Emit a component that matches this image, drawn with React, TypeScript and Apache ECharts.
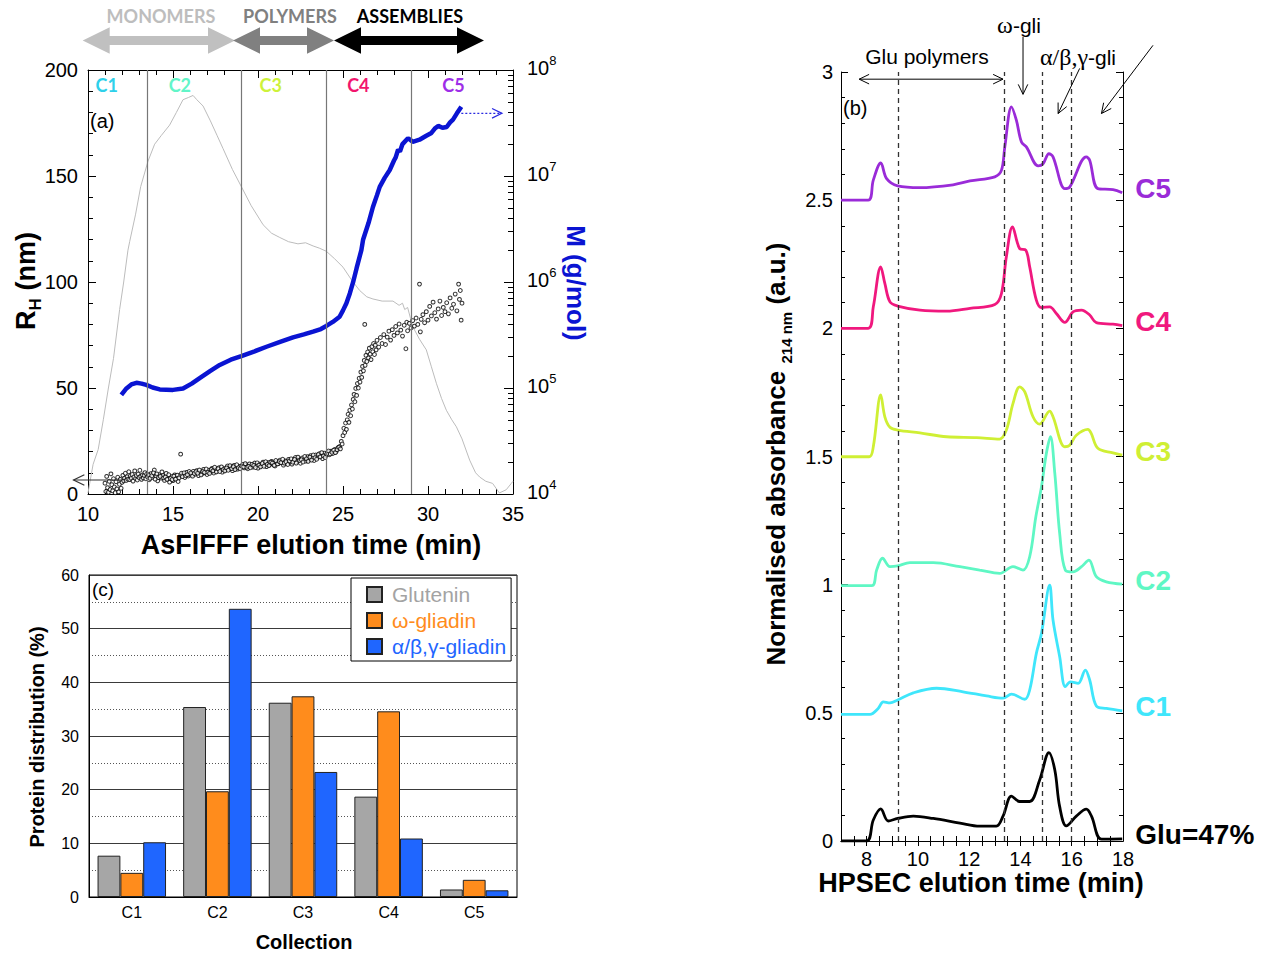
import React, { useEffect, useRef } from "react";
import * as echarts from "echarts";

const FONT = "'Liberation Sans', Arial, Helvetica, sans-serif";
const FONT_C = "Lato, 'Open Sans', sans-serif";
const SERIF = "'Liberation Serif', 'DejaVu Serif', serif";

// ---------- (a) AsFlFFF ----------
const FRACTOGRAM: [number, number][] = [
  [10.0, 0.5], [10.1, 5], [10.3, 14], [10.6, 21], [10.9, 35], [11.2, 50], [11.5, 64], [11.86, 87],
  [12.1, 100], [12.35, 115], [12.45, 119], [12.8, 132], [13.1, 145], [13.53, 157], [13.92, 165],
  [14.3, 169], [14.8, 174], [15.2, 180], [15.59, 186], [15.9, 187], [16.18, 188], [16.4, 186],
  [16.77, 183], [17.2, 176], [17.6, 169], [17.94, 163], [18.5, 153], [19.02, 145], [19.6, 136],
  [20.3, 127], [20.8, 123], [21.28, 121], [21.8, 119], [22.35, 118], [22.8, 118.5], [23.24, 117],
  [23.6, 116], [24.02, 114.5], [24.5, 111], [25.0, 107], [25.5, 101], [25.98, 96], [26.4, 93],
  [26.76, 92], [27.3, 91], [27.94, 91], [28.3, 89], [28.5, 90], [28.63, 87], [28.8, 88], [29.1, 79],
  [29.5, 73], [29.9, 68], [30.2, 60], [30.5, 52], [30.8, 45], [31.08, 39.5], [31.4, 35], [31.67, 31.7],
  [32.0, 26], [32.45, 16], [32.8, 10], [33.04, 8], [33.4, 6], [33.8, 5], [34.2, 0.5], [34.6, 2],
  [34.9, 5], [35.0, 6],
];

const MOLAR_MASS: [number, number][] = [
  [11.96, 8.6e4], [12.26, 9.9e4], [12.55, 1.08e5], [12.85, 1.12e5], [13.15, 1.1e5], [13.43, 1.07e5],
  [13.8, 1.01e5], [14.22, 9.7e4], [15.0, 9.6e4], [15.59, 9.9e4], [16.1, 1.1e5], [16.57, 1.24e5],
  [17.2, 1.45e5], [17.75, 1.65e5], [18.4, 1.85e5], [19.02, 2.0e5], [19.8, 2.22e5], [20.5, 2.45e5],
  [21.3, 2.72e5], [22.06, 3.0e5], [22.7, 3.2e5], [23.24, 3.4e5], [23.7, 3.6e5], [24.02, 3.85e5],
  [24.4, 4.2e5], [24.8, 4.7e5], [25.0, 5.4e5], [25.2, 6.3e5], [25.4, 7.8e5], [25.59, 9.9e5],
  [25.8, 1.35e6], [26.08, 2.0e6], [26.18, 2.5e6], [26.5, 3.6e6], [26.76, 5.1e6], [27.0, 6.6e6],
  [27.16, 7.9e6], [27.45, 9.6e6], [27.75, 1.14e7], [28.0, 1.4e7], [28.1, 1.5e7], [28.24, 1.77e7],
  [28.35, 1.7e7], [28.5, 2.0e7], [28.82, 2.27e7], [28.95, 2.2e7], [29.1, 2.1e7], [29.5, 2.2e7],
  [29.9, 2.4e7], [30.2, 2.55e7], [30.4, 2.8e7], [30.6, 2.97e7], [30.85, 2.85e7], [31.1, 2.9e7],
  [31.3, 3.2e7], [31.47, 3.4e7], [31.7, 3.9e7], [31.96, 4.5e7],
];

const RH_POINTS: [number, number][] = [
  [11.0, 5.1], [11.05, 1.2], [11.1, 8.3], [11.15, 3.0], [11.2, 0.8], [11.25, 6.0], [11.3, 2.1], [11.35, 9.5],
  [11.4, 4.4], [11.45, 1.5], [11.5, 7.2], [11.55, 3.3], [11.6, 0.6], [11.65, 5.8], [11.7, 2.4], [11.75, 7.9],
  [11.8, 1.0], [11.85, 4.6], [11.9, 6.9], [11.95, 2.7], [12.0, 5.5], [12.05, 8.8], [12.1, 6.2], [12.15, 7.5],
  [12.2, 9.8], [12.25, 6.4], [12.3, 8.1], [12.35, 7.0], [12.4, 10.5], [12.45, 6.8], [12.5, 8.6], [12.55, 7.4],
  [12.6, 9.2], [12.65, 6.1], [12.7, 8.0], [12.75, 10.9], [12.8, 7.3], [12.85, 8.7], [12.9, 6.6], [12.95, 9.4],
  [13.0, 7.8], [13.05, 11.2], [13.1, 8.3], [13.15, 6.9], [13.2, 9.0], [13.25, 7.6], [13.3, 8.8], [13.35, 10.1],
  [13.4, 7.2], [13.45, 9.3], [13.5, 8.1], [13.6, 6.7], [13.7, 9.6], [13.8, 7.9], [13.9, 11.3], [14.0, 8.4],
  [14.1, 6.2], [14.2, 9.1], [14.3, 7.5], [14.4, 8.8], [14.5, 6.4], [14.6, 9.7], [14.7, 7.1], [14.8, 5.6],
  [14.9, 8.2], [15.0, 6.3], [15.1, 9.0], [15.2, 7.4], [15.3, 5.9], [15.4, 8.6], [15.45, 18.8], [15.6, 9.3],
  [15.7, 7.8], [15.8, 10.2], [15.9, 8.5], [16.0, 9.6], [16.1, 8.9], [16.2, 10.7], [16.3, 9.3], [16.4, 11.0],
  [16.5, 8.7], [16.6, 10.1], [16.7, 9.5], [16.8, 11.6], [16.9, 10.0], [17.0, 9.2], [17.1, 11.2], [17.2, 10.4],
  [17.3, 12.1], [17.4, 9.9], [17.5, 11.5], [17.6, 10.8], [17.7, 12.4], [17.8, 11.1], [17.9, 10.3], [18.0, 12.0],
  [18.1, 11.4], [18.2, 13.2], [18.3, 11.8], [18.4, 12.6], [18.5, 11.0], [18.6, 13.5], [18.7, 12.2], [18.8, 11.7],
  [18.9, 13.0], [19.0, 12.5], [19.1, 13.9], [19.2, 12.3], [19.3, 13.6], [19.4, 11.9], [19.5, 14.2], [19.6, 13.1],
  [19.7, 12.7], [19.8, 14.6], [19.9, 13.4], [20.0, 12.2], [20.1, 14.1], [20.2, 13.3], [20.3, 15.0], [20.4, 13.7],
  [20.5, 12.9], [20.6, 14.8], [20.7, 13.9], [20.8, 15.4], [20.9, 14.0], [21.0, 13.2], [21.1, 15.1], [21.2, 14.3],
  [21.3, 16.0], [21.4, 14.7], [21.5, 13.6], [21.6, 15.6], [21.7, 14.4], [21.8, 16.3], [21.9, 15.0], [22.0, 14.1],
  [22.1, 15.9], [22.2, 17.2], [22.3, 15.3], [22.4, 16.6], [22.5, 14.5], [22.6, 17.0], [22.7, 16.1], [22.8, 15.5],
  [22.9, 17.6], [23.0, 16.4], [23.1, 18.1], [23.2, 16.9], [23.3, 15.8], [23.4, 18.4], [23.5, 17.3], [23.6, 19.0],
  [23.7, 17.8], [23.8, 16.7], [23.9, 19.3], [24.0, 18.2], [24.1, 19.6], [24.2, 18.5], [24.3, 20.2], [24.4, 19.1],
  [24.5, 21.0], [24.6, 20.0], [24.7, 21.8], [24.8, 22.4], [24.9, 24.8], [25.0, 27.5], [25.05, 31.0], [25.1, 29.0],
  [25.15, 33.5], [25.2, 30.5], [25.25, 35.0], [25.3, 37.6], [25.35, 33.8], [25.4, 39.5], [25.45, 36.9], [25.5, 42.0],
  [25.55, 40.1], [25.6, 44.6], [25.65, 47.0], [25.7, 43.5], [25.75, 49.8], [25.8, 46.5], [25.85, 52.1], [25.9, 50.0],
  [25.95, 54.6], [26.0, 52.8], [26.05, 57.5], [26.1, 55.0], [26.15, 60.2], [26.2, 58.1], [26.25, 63.0], [26.28, 80.0],
  [26.3, 60.7], [26.35, 65.4], [26.4, 62.5], [26.45, 67.0], [26.5, 64.2], [26.55, 68.8], [26.6, 66.0], [26.65, 63.4],
  [26.7, 69.5], [26.75, 67.1], [26.8, 71.0], [26.85, 65.8], [26.9, 70.2], [26.95, 68.0], [27.0, 72.5], [27.1, 69.3],
  [27.2, 73.8], [27.3, 71.0], [27.4, 75.2], [27.5, 70.5], [27.6, 74.0], [27.7, 76.8], [27.8, 72.6], [27.9, 77.5],
  [28.0, 74.8], [28.1, 79.0], [28.2, 76.0], [28.3, 80.2], [28.4, 77.3], [28.5, 74.5], [28.6, 79.6], [28.7, 68.5],
  [28.75, 81.0], [28.8, 77.0], [28.9, 80.5], [29.0, 78.3], [29.1, 81.8], [29.2, 79.2], [29.3, 83.0], [29.4, 80.0],
  [29.5, 99.0], [29.55, 76.5], [29.6, 82.4], [29.7, 84.6], [29.8, 80.8], [29.9, 86.0], [30.0, 82.0], [30.1, 88.5],
  [30.2, 84.0], [30.3, 90.5], [30.4, 85.5], [30.5, 82.5], [30.6, 87.3], [30.7, 91.0], [30.8, 84.2], [30.9, 88.0],
  [31.0, 86.0], [31.1, 90.2], [31.2, 85.0], [31.3, 92.5], [31.4, 87.6], [31.5, 89.5], [31.6, 94.3], [31.7, 86.4],
  [31.8, 99.0], [31.85, 91.8], [31.9, 96.0], [31.95, 82.0], [32.0, 90.0],
  [13.55, 9.0], [13.65, 7.4], [13.75, 8.6], [13.85, 10.0], [13.95, 7.0], [14.05, 9.5], [14.15, 7.8], [14.25, 8.3],
  [14.35, 10.4], [14.45, 7.6], [14.55, 8.0], [14.65, 6.9], [14.75, 9.1], [14.85, 7.3], [14.95, 6.8], [15.05, 8.4],
  [15.15, 7.0], [15.25, 8.9], [15.35, 7.6], [15.5, 9.8], [15.55, 8.2], [15.65, 10.0], [15.75, 8.6], [15.85, 9.1],
  [15.95, 10.6], [16.05, 9.9], [16.15, 8.4], [16.25, 9.7], [16.35, 10.5], [16.45, 9.8], [16.55, 11.3], [16.65, 9.0],
  [16.75, 10.6], [16.85, 10.2], [16.95, 11.8], [17.05, 10.3], [17.15, 9.7], [17.25, 11.6], [17.35, 10.9], [17.45, 12.6],
  [17.55, 10.4], [17.65, 11.9], [17.75, 10.6], [17.85, 12.8], [17.95, 11.5], [18.05, 10.9], [18.15, 12.3], [18.25, 11.2],
  [18.35, 13.4], [18.45, 12.0], [18.55, 12.9], [18.65, 11.5], [18.75, 13.8], [18.85, 12.4], [18.95, 11.9], [19.05, 13.2],
  [19.15, 12.8], [19.25, 14.3], [19.35, 12.6], [19.45, 13.0], [19.55, 12.4], [19.65, 14.0], [19.75, 13.5], [19.85, 12.5],
  [19.95, 14.7], [20.05, 13.6], [20.15, 12.8], [20.25, 14.4], [20.35, 13.1], [20.45, 15.2], [20.55, 14.0], [20.65, 13.4],
  [20.75, 15.0], [20.85, 14.6], [20.95, 13.5], [21.05, 15.8], [21.15, 14.2], [21.25, 15.3], [21.35, 14.8], [21.45, 16.4],
  [21.55, 14.6], [21.65, 15.2], [21.75, 13.9], [21.85, 15.6], [21.95, 16.6], [22.05, 15.0], [22.15, 16.3], [22.25, 14.6],
  [22.35, 17.4], [22.45, 15.8], [22.55, 16.2], [22.65, 15.1], [22.75, 17.7], [22.85, 16.6], [22.95, 15.4], [23.05, 17.4],
  [23.15, 16.0], [23.25, 18.4], [23.35, 17.1], [23.45, 16.4], [23.55, 18.6], [23.65, 17.5], [23.75, 19.5], [23.85, 18.0],
  [23.95, 17.2], [24.05, 19.0], [24.15, 20.3], [24.25, 18.9], [24.35, 19.7], [24.45, 20.6], [24.55, 19.5], [24.65, 20.9],
  [24.75, 22.0], [24.85, 21.3], [24.95, 23.6],
];

const COLLECTION_CUTS = [13.5, 19, 24, 29];
const COLLECTIONS = ["C1", "C2", "C3", "C4", "C5"];
const COLLECTION_COLORS = ["#2ed0ea", "#62f5c8", "#cdf23a", "#f2156e", "#9e2ee8"];
const COLLECTION_LABEL_X = [11.1, 15.4, 20.75, 25.9, 31.5];
const FRACTION_CLASSES = ["MONOMERS", "POLYMERS", "ASSEMBLIES"];
const FRACTION_COLORS = ["#c0c0c0", "#808080", "#000000"];

// ---------- (b) HPSEC ----------
const GLU_TRACE: [number, number][] = [
  [7.0, 0.0], [8.0, 0.0], [8.26, 0.082], [8.55, 0.125], [8.84, 0.078], [9.21, 0.088], [9.82, 0.097],
  [10.6, 0.088], [11.64, 0.07], [12.41, 0.058], [13.06, 0.058], [13.32, 0.097], [13.65, 0.175], [13.97, 0.154],
  [14.36, 0.154], [14.75, 0.238], [15.11, 0.345], [15.34, 0.277], [15.53, 0.134], [15.79, 0.059], [16.18, 0.097],
  [16.57, 0.124], [16.77, 0.097], [17.16, 0.007], [17.97, 0.008],
];
const C1_TRACE: [number, number][] = [
  [7.0, 0.494], [8.13, 0.494], [8.45, 0.517], [8.65, 0.543], [8.91, 0.539], [9.21, 0.55], [9.82, 0.578],
  [10.73, 0.596], [11.76, 0.582], [12.68, 0.566], [13.32, 0.557], [13.65, 0.573], [14.17, 0.553], [14.36, 0.589],
  [14.62, 0.732], [14.82, 0.81], [15.14, 0.998], [15.27, 0.862], [15.53, 0.719], [15.75, 0.602], [15.95, 0.621],
  [16.25, 0.615], [16.53, 0.667], [16.7, 0.628], [16.96, 0.527], [17.35, 0.517], [17.97, 0.508],
];
const C2_TRACE: [number, number][] = [
  [7.0, 0.996], [8.2, 0.996], [8.39, 1.057], [8.62, 1.103], [8.91, 1.07], [9.21, 1.073], [9.69, 1.086],
  [10.6, 1.086], [11.64, 1.07], [12.41, 1.057], [13.19, 1.044], [13.71, 1.07], [14.1, 1.057], [14.36, 1.109],
  [14.6, 1.265], [14.82, 1.382], [15.01, 1.512], [15.17, 1.577], [15.34, 1.434], [15.53, 1.2], [15.75, 1.057],
  [16.05, 1.05], [16.38, 1.07], [16.67, 1.096], [16.96, 1.031], [17.35, 1.011], [17.97, 1.002],
];
const C3_TRACE: [number, number][] = [
  [7.0, 1.499], [8.1, 1.499], [8.26, 1.538], [8.55, 1.74], [8.71, 1.655], [8.91, 1.614], [9.21, 1.603],
  [10.08, 1.592], [11.12, 1.577], [12.29, 1.574], [13.19, 1.568], [13.45, 1.603], [13.71, 1.707], [13.97, 1.772],
  [14.17, 1.752], [14.49, 1.655], [14.75, 1.626], [15.14, 1.677], [15.27, 1.655], [15.73, 1.538], [15.92, 1.544],
  [16.18, 1.583], [16.63, 1.606], [16.76, 1.59], [17.02, 1.532], [17.61, 1.514], [17.97, 1.505],
];
const C4_TRACE: [number, number][] = [
  [7.0, 2.0], [8.06, 2.0], [8.26, 2.084], [8.55, 2.24], [8.71, 2.175], [8.91, 2.103], [9.21, 2.087],
  [10.08, 2.071], [11.12, 2.067], [12.03, 2.078], [13.0, 2.093], [13.26, 2.136], [13.45, 2.279], [13.69, 2.396],
  [13.97, 2.311], [14.21, 2.305], [14.36, 2.24], [14.62, 2.11], [14.82, 2.081], [15.14, 2.084], [15.4, 2.058],
  [15.73, 2.023], [16.05, 2.064], [16.38, 2.071], [16.7, 2.052], [16.96, 2.022], [17.61, 2.016], [17.97, 2.011],
];
const C5_TRACE: [number, number][] = [
  [7.0, 2.5], [8.06, 2.5], [8.26, 2.578], [8.55, 2.645], [8.78, 2.584], [9.21, 2.556], [10.08, 2.549],
  [11.37, 2.56], [12.03, 2.575], [13.0, 2.591], [13.26, 2.617], [13.39, 2.708], [13.65, 2.864], [13.84, 2.812],
  [14.04, 2.727], [14.23, 2.708], [14.69, 2.634], [14.88, 2.642], [15.11, 2.681], [15.27, 2.669], [15.73, 2.545],
  [15.92, 2.551], [16.57, 2.669], [16.7, 2.656], [17.02, 2.545], [17.61, 2.541], [17.97, 2.529],
];
const TRACE_NAMES = ["Glu=47%", "C1", "C2", "C3", "C4", "C5"];
const TRACE_COLORS = ["#000000", "#3fe6fb", "#5ff7c4", "#cfef34", "#f0187e", "#9a2bd8"];
const TRACES = [GLU_TRACE, C1_TRACE, C2_TRACE, C3_TRACE, C4_TRACE, C5_TRACE];
const HPSEC_DASHES = [9.24, 13.37, 14.85, 15.98];
const HPSEC_LABEL_TICKS = [8, 10, 12, 14, 16, 18];
const HPSEC_TICKS = [7.5, 8, 8.5, 9, 9.5, 10, 10.5, 11, 11.5, 12, 12.5, 13, 13.5, 14, 14.5, 15, 15.5, 16, 16.5, 17, 17.5];

// ---------- (c) distribution ----------
const CATEGORIES = ["C1", "C2", "C3", "C4", "C5"];
const GLUTENIN = [7.7, 35.4, 36.2, 18.7, 1.4];
const OMEGA_GLIADIN = [4.5, 19.7, 37.4, 34.6, 3.2];
const ABG_GLIADIN = [10.2, 53.7, 23.3, 10.9, 1.25];
const BAR_NAMES = ["Glutenin", "ω-gliadin", "α/β,γ-gliadin"];
const BAR_COLORS = ["#a6a6a6", "#ff8c1c", "#1f66ff"];
const BAR_TEXT_COLORS = ["#a3a3a3", "#ff8c1c", "#1f66ff"];

const LOG_DECADES = [4, 5, 6, 7];
const LOG_MANTISSAS = [2, 3, 4, 5, 6, 7, 8, 9];

const blk = "#000";
const tickStyle = { color: blk, width: 1 };

function buildOption(): any {
  const logMinor = LOG_DECADES.flatMap((d) => LOG_MANTISSAS.map((m) => d + Math.log10(m)));
  const axisLbl = (size: number, margin: number) => ({ fontSize: size, color: blk, fontFamily: FONT, margin });
  return {
    animation: false,
    backgroundColor: "#fff",
    grid: [
      { left: 88, top: 70, width: 425, height: 424, show: false },
      { left: 841, top: 72, width: 282, height: 769, show: false },
      { left: 89, top: 575, width: 428, height: 322, show: true, borderColor: blk, borderWidth: 1, backgroundColor: "transparent" },
    ],
    xAxis: [
      {
        type: "value", gridIndex: 0, min: 10, max: 35, interval: 5, position: "bottom",
        axisLine: { lineStyle: { color: blk } },
        axisTick: { inside: true, length: 8, lineStyle: tickStyle },
        minorTick: { show: true, splitNumber: 5, length: 5, lineStyle: tickStyle },
        axisLabel: axisLbl(20, 10), splitLine: { show: false },
      },
      {
        type: "value", gridIndex: 0, min: 10, max: 35, interval: 5, position: "top",
        axisLine: { lineStyle: { color: blk } },
        axisTick: { inside: true, length: 8, lineStyle: tickStyle },
        minorTick: { show: true, splitNumber: 5, length: 5, lineStyle: tickStyle },
        axisLabel: { show: false }, splitLine: { show: false },
      },
      {
        type: "value", gridIndex: 1, min: 7, max: 18, position: "bottom",
        axisLine: { lineStyle: { color: blk } },
        axisTick: { inside: true, length: 5, lineStyle: tickStyle, customValues: HPSEC_TICKS },
        axisLabel: { ...axisLbl(20, 8), customValues: HPSEC_LABEL_TICKS }, splitLine: { show: false },
      },
      {
        type: "value", gridIndex: 1, min: 7, max: 18, position: "top",
        axisLine: { lineStyle: { color: blk } },
        axisTick: { inside: true, length: 5, lineStyle: tickStyle, customValues: HPSEC_TICKS },
        axisLabel: { show: false }, splitLine: { show: false },
      },
      {
        type: "category", gridIndex: 2, data: CATEGORIES,
        axisLine: { lineStyle: { color: blk } }, axisTick: { show: false },
        axisLabel: axisLbl(16, 7),
      },
    ],
    yAxis: [
      {
        type: "value", gridIndex: 0, min: 0, max: 200, interval: 50, position: "left",
        axisLine: { show: true, lineStyle: { color: blk } },
        axisTick: { show: true, inside: true, length: 8, lineStyle: tickStyle },
        minorTick: { show: true, splitNumber: 5, length: 5, lineStyle: tickStyle },
        axisLabel: axisLbl(20, 10), splitLine: { show: false },
      },
      {
        type: "log", logBase: 10, gridIndex: 0, min: 1e4, max: 1e8, position: "right",
        axisLine: { show: true, lineStyle: { color: blk } },
        axisTick: { show: true, inside: true, length: 9, lineStyle: tickStyle },
        axisLabel: {
          margin: 14, color: blk,
          padding: [0, 0, 9, 0],
          formatter: (v: number) => `{b|10}{s|${Math.round(Math.log10(v))}}`,
          rich: {
            b: { fontSize: 20, fontFamily: FONT, color: blk, lineHeight: 24, verticalAlign: "bottom" },
            s: { fontSize: 13, fontFamily: FONT, color: blk, lineHeight: 13, verticalAlign: "top" },
          },
        },
        splitLine: { show: false },
      },
      {
        type: "value", gridIndex: 0, min: 4, max: 8, position: "right",
        axisLine: { show: false },
        axisTick: { show: true, inside: true, length: 5, lineStyle: tickStyle, customValues: logMinor },
        axisLabel: { show: false }, splitLine: { show: false },
      },
      {
        type: "value", gridIndex: 1, min: 0, max: 3, interval: 0.5, position: "left",
        axisLine: { show: true, lineStyle: { color: blk } },
        axisTick: { show: true, inside: true, length: 7, lineStyle: tickStyle },
        minorTick: { show: true, splitNumber: 5, length: 4, lineStyle: tickStyle },
        axisLabel: axisLbl(20, 8), splitLine: { show: false },
      },
      {
        type: "value", gridIndex: 1, min: 0, max: 3, interval: 0.5, position: "right",
        axisLine: { show: true, lineStyle: { color: blk } },
        axisTick: { show: true, inside: true, length: 7, lineStyle: tickStyle },
        minorTick: { show: true, splitNumber: 5, length: 4, lineStyle: tickStyle },
        axisLabel: { show: false }, splitLine: { show: false },
      },
      {
        type: "value", gridIndex: 2, min: 0, max: 60, interval: 10,
        axisLine: { show: true, lineStyle: { color: blk } }, axisTick: { show: false },
        axisLabel: axisLbl(16, 10),
        splitLine: { show: true, lineStyle: { color: "#3a3a3a", width: 1 } },
        minorTick: { show: true, splitNumber: 2, length: 0 },
        minorSplitLine: { show: true, lineStyle: { color: "#555", width: 1, type: [1, 2] } },
      },
    ],
    legend: {
      data: BAR_NAMES.map((n, i) => ({ name: n, textStyle: { color: BAR_TEXT_COLORS[i] } })),
      orient: "vertical", left: 351, top: 578,
      itemWidth: 15, itemHeight: 15, itemGap: 5, icon: "rect",
      backgroundColor: "#fff", borderColor: blk, borderWidth: 1,
      padding: [6, 5, 4, 15],
      textStyle: { fontSize: 21, fontFamily: FONT, padding: [0, 0, 0, 5] },
      selectedMode: false,
    },
    series: [
      {
        type: "line", name: "fractogram", xAxisIndex: 0, yAxisIndex: 0, data: FRACTOGRAM,
        symbol: "none", lineStyle: { color: "#bcbcbc", width: 1 }, z: 2,
        markLine: {
          silent: true, symbol: ["none", "none"], label: { show: false },
          lineStyle: { color: "#777", width: 1.2, type: "solid" },
          data: COLLECTION_CUTS.map((x) => ({ xAxis: x })),
        },
      },
      {
        type: "scatter", name: "RH", xAxisIndex: 0, yAxisIndex: 0, data: RH_POINTS,
        symbol: "circle", symbolSize: 3.8,
        itemStyle: { color: "#fff", borderColor: "#000", borderWidth: 1 }, z: 3,
      },
      {
        type: "line", name: "M", xAxisIndex: 0, yAxisIndex: 1, data: MOLAR_MASS,
        symbol: "none", lineStyle: { color: "#0a14d2", width: 4.5 }, z: 4,
      },
      ...TRACES.map((tr, i) => ({
        type: "line", name: TRACE_NAMES[i], xAxisIndex: 2, yAxisIndex: 3, data: tr,
        symbol: "none", smooth: 0.35, lineStyle: { color: TRACE_COLORS[i], width: 2.8 }, z: 3,
        ...(i === 0
          ? {
              markLine: {
                silent: true, symbol: ["none", "none"], label: { show: false },
                lineStyle: { color: "#333", width: 1.3, type: [5, 4] },
                data: HPSEC_DASHES.map((x) => ({ xAxis: x })),
              },
            }
          : {}),
      })),
      ...[GLUTENIN, OMEGA_GLIADIN, ABG_GLIADIN].map((vals, i) => ({
        type: "bar", name: BAR_NAMES[i], xAxisIndex: 4, yAxisIndex: 5, data: vals,
        barGap: "0%", barCategoryGap: "20%",
        itemStyle: { color: BAR_COLORS[i], borderColor: "#222", borderWidth: 1 }, z: 3,
      })),
    ],
  };
}

function openHead(tip: number[], from: number[], len: number, stroke: string, lw: number) {
  const dx = tip[0] - from[0];
  const dy = tip[1] - from[1];
  const d = Math.hypot(dx, dy) || 1;
  const ux = dx / d, uy = dy / d;
  const a = Math.PI / 7;
  const w = (s: number) => {
    const c = Math.cos(s * a), sn = Math.sin(s * a);
    const rx = ux * c - uy * sn, ry = ux * sn + uy * c;
    return [tip[0] - len * rx, tip[1] - len * ry];
  };
  return {
    type: "polyline", z: 100,
    shape: { points: [w(1), tip, w(-1)] },
    style: { stroke, lineWidth: lw, fill: null },
  };
}

function line(p: number[], q: number[], stroke: string, lw: number, dash?: number[]) {
  return {
    type: "line", z: 100,
    shape: { x1: p[0], y1: p[1], x2: q[0], y2: q[1] },
    style: { stroke, lineWidth: lw, lineDash: dash || null },
  };
}

function text(x: number, y: number, t: string, o: any = {}) {
  return {
    type: "text", z: 100, x, y, rotation: o.rotation || 0,
    style: {
      text: t, fill: o.fill || "#000", fontSize: o.fontSize || 20, fontWeight: o.fontWeight || "normal",
      fontFamily: o.fontFamily || FONT, align: o.align || "center", verticalAlign: o.verticalAlign || "middle",
      rich: o.rich,
    },
  };
}

function doubleArrow(x1: number, x2: number, yc: number, fill: string) {
  const sh = 4.5, hh = 13.3, hl = 27;
  return {
    type: "polygon", z: 100,
    shape: {
      points: [
        [x1, yc], [x1 + hl, yc - hh], [x1 + hl, yc - sh], [x2 - hl, yc - sh], [x2 - hl, yc - hh],
        [x2, yc], [x2 - hl, yc + hh], [x2 - hl, yc + sh], [x1 + hl, yc + sh], [x1 + hl, yc + hh],
      ],
    },
    style: { fill },
  };
}

function buildGraphics(chart: any) {
  const pa = (x: number, y: number) => chart.convertToPixel({ xAxisIndex: 0, yAxisIndex: 0 }, [x, y]);
  const pm = (x: number, y: number) => chart.convertToPixel({ xAxisIndex: 0, yAxisIndex: 1 }, [x, y]);
  const pb = (x: number, y: number) => chart.convertToPixel({ xAxisIndex: 2, yAxisIndex: 3 }, [x, y]);
  const g: any[] = [];

  // top fraction arrows
  const arrowX = [[82.7, 235], [233, 334], [334, 484]];
  const labelX = [161, 290, 410];
  FRACTION_CLASSES.forEach((name, i) => {
    g.push(doubleArrow(arrowX[i][0], arrowX[i][1], 40.5, FRACTION_COLORS[i]));
    g.push(text(labelX[i], 16, name, { fill: i === 0 ? "#bdbdbd" : FRACTION_COLORS[i], fontSize: 18, fontWeight: "bold", fontFamily: FONT_C }));
  });

  // collection labels in (a)
  COLLECTIONS.forEach((c, i) => {
    const p = pa(COLLECTION_LABEL_X[i], 193);
    g.push(text(p[0], p[1], c, { fill: COLLECTION_COLORS[i], fontSize: 18, fontWeight: "bold", fontFamily: FONT_C }));
  });
  g.push(text(90, 121, "(a)", { align: "left", fontSize: 20 }));

  // RH arrow to the left axis
  const r1 = pa(12.0, 6.6), r0 = pa(9.15, 6.6);
  g.push(line(r1, r0, "#333", 1.2));
  g.push(openHead(r0, r1, 12, "#333", 1.2));
  // M dotted arrow to the right axis
  const lastM = MOLAR_MASS[MOLAR_MASS.length - 1];
  const m0 = pm(lastM[0], 3.9e7), m1 = pm(34.35, 3.9e7);
  g.push(line(m0, m1, "#2a2ae0", 1.3, [2, 2]));
  g.push(openHead(m1, m0, 11, "#2a2ae0", 1.2));

  // axis titles (a)
  g.push(text(311, 545, "AsFlFFF elution time (min)", { fontSize: 27, fontWeight: "bold" }));
  g.push(text(26, 281, "{m|R}{s|H}{m| (nm)}", {
    rotation: Math.PI / 2,
    rich: {
      m: { fontSize: 27, fontWeight: "bold", fontFamily: FONT, lineHeight: 36, verticalAlign: "middle" },
      s: { fontSize: 17, fontWeight: "bold", fontFamily: FONT, lineHeight: 17, verticalAlign: "bottom" },
    },
  }));
  g.push(text(576, 283, "M (g/mol)", { rotation: -Math.PI / 2, fontSize: 26, fontWeight: "bold", fill: "#0a14d2" }));

  // (b) annotations
  g.push(text(843, 108, "(b)", { align: "left", fontSize: 20 }));
  g.push(text(927, 56, "Glu polymers", { fontSize: 21 }));
  const gp0 = pb(7.71, 2.972), gp1 = pb(13.32, 2.972);
  g.push(line(gp0, gp1, "#000", 1));
  g.push(openHead(gp0, gp1, 11, "#000", 1));
  g.push(openHead(gp1, gp0, 11, "#000", 1));
  g.push(text(1019, 25, "{g|ω}{t|-gli}", {
    rich: {
      g: { fontSize: 24, fontFamily: SERIF, verticalAlign: "middle" },
      t: { fontSize: 21, fontFamily: FONT, verticalAlign: "middle" },
    },
  }));
  const w0 = pb(14.1, 3.137), w1 = pb(14.1, 2.913);
  g.push(line(w0, w1, "#000", 1));
  g.push(openHead(w1, w0, 11, "#000", 1));
  g.push(text(1078, 57, "{g|α/β,γ}{t|-gli}", {
    rich: {
      g: { fontSize: 24, fontFamily: SERIF, verticalAlign: "middle" },
      t: { fontSize: 21, fontFamily: FONT, verticalAlign: "middle" },
    },
  }));
  const a0 = pb(16.31, 3.014), a1 = pb(15.47, 2.838);
  g.push(line(a0, a1, "#000", 1));
  g.push(openHead(a1, a0, 11, "#000", 1));
  const b0 = pb(19.17, 3.104), b1 = pb(17.16, 2.838);
  g.push(line(b0, b1, "#000", 1));
  g.push(openHead(b1, b0, 11, "#000", 1));

  // trace labels
  TRACES.forEach((tr, i) => {
    const last = tr[tr.length - 1];
    const p = pb(last[0], last[1]);
    g.push(text(p[0] + 13, p[1] - 4, TRACE_NAMES[i], {
      align: "left", fontSize: 28, fontWeight: "bold", fill: TRACE_COLORS[i],
    }));
  });

  // axis titles (b)
  g.push(text(981, 883, "HPSEC elution time (min)", { fontSize: 27, fontWeight: "bold" }));
  g.push(text(776, 454, "{m|Normalised absorbance }{s|214 nm}{m| (a.u.)}", {
    rotation: Math.PI / 2,
    rich: {
      m: { fontSize: 26, fontWeight: "bold", fontFamily: FONT, lineHeight: 36, verticalAlign: "middle" },
      s: { fontSize: 15, fontWeight: "bold", fontFamily: FONT, lineHeight: 15, verticalAlign: "bottom" },
    },
  }));

  // (c)
  g.push(text(92, 589, "(c)", { align: "left", fontSize: 19 }));
  g.push(text(304, 942, "Collection", { fontSize: 20, fontWeight: "bold" }));
  g.push(text(37, 737, "Protein distribution (%)", { rotation: Math.PI / 2, fontSize: 20, fontWeight: "bold" }));
  return g;
}

export default function App() {
  const ref = useRef<HTMLDivElement>(null);
  useEffect(() => {
    const chart = echarts.init(ref.current!, null, { renderer: "svg" });
    chart.setOption(buildOption());
    chart.setOption({ graphic: buildGraphics(chart) });
    return () => chart.dispose();
  }, []);
  return (
    <div
      ref={ref}
      style={{ position: "absolute", left: 0, top: 0, width: 1263, height: 953, background: "#fff" }}
    />
  );
}
